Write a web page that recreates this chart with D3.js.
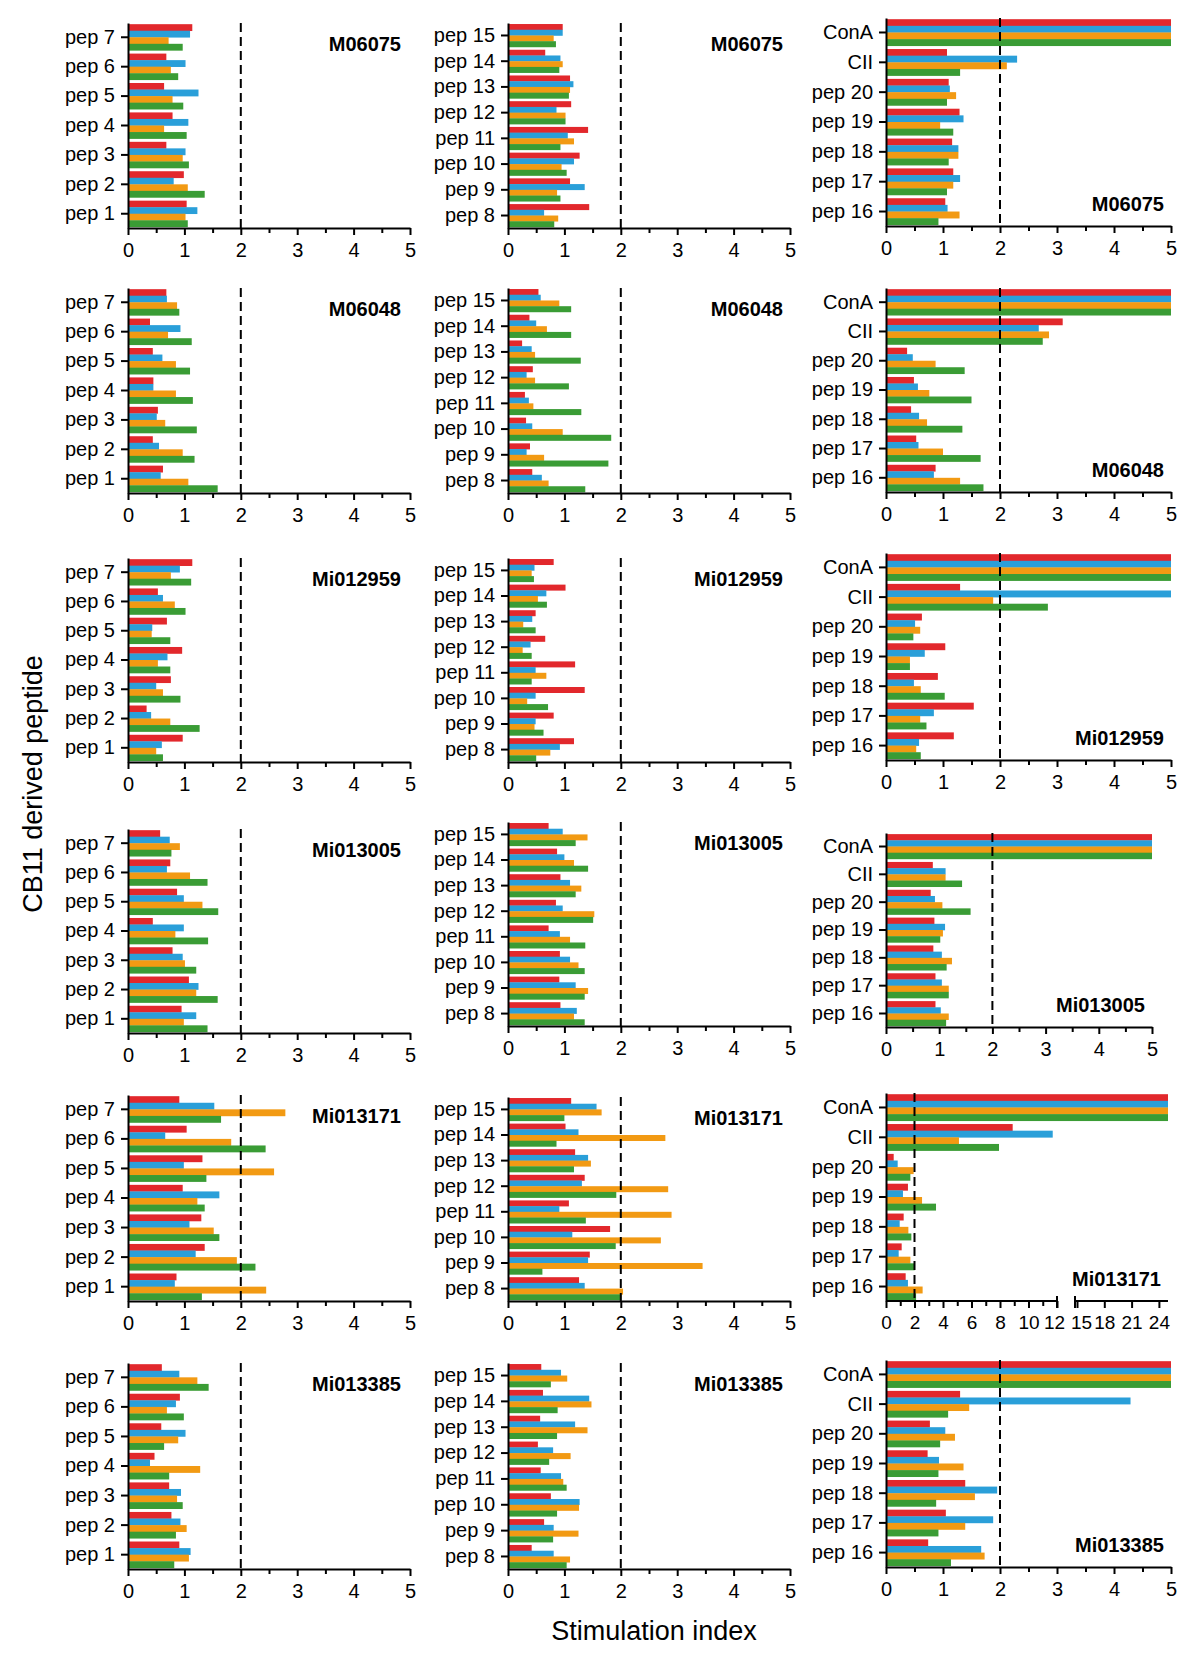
<!DOCTYPE html>
<html><head><meta charset="utf-8">
<script src="https://cdn.jsdelivr.net/npm/d3@7"></script>
<style>
body{margin:0;background:#fff}
text{font-family:Arial,"Liberation Sans",sans-serif;fill:#000}
</style>
</head><body>
<svg id="chart" width="1200" height="1662"></svg>
<script>
// ---------------- DATA ----------------
const seriesNames = ["Sample 1", "Sample 2", "Sample 3", "Sample 4"];
const seriesColors = ["#e2282c", "#2a9fd9", "#f29a13", "#3a9c35"];
const donors = ["M06075", "M06048", "Mi012959", "Mi013005", "Mi013171", "Mi013385"];
const catsA = ["pep 7", "pep 6", "pep 5", "pep 4", "pep 3", "pep 2", "pep 1"];
const catsB = ["pep 15", "pep 14", "pep 13", "pep 12", "pep 11", "pep 10", "pep 9", "pep 8"];
const catsC = ["ConA", "CII", "pep 20", "pep 19", "pep 18", "pep 17", "pep 16"];
const xTicks = [0, 1, 2, 3, 4, 5];
const xMinorTicks = [0.5, 1.5, 2.5, 3.5, 4.5];
const brokenTicks = [0, 2, 4, 6, 8, 10, 12, 15, 18, 21, 24];
const brokenMinorTicks = [1, 3, 5, 7, 9, 11];
const threshold = 2;

// each array: rows = series (red, blue, orange, green), columns = categories top→bottom
const M06075_A = [
  [1.14, 0.68, 0.64, 0.79, 0.68, 0.99, 1.04],
  [1.10, 1.02, 1.25, 1.07, 1.02, 0.81, 1.23],
  [0.72, 0.76, 0.79, 0.64, 0.97, 1.06, 1.02],
  [0.97, 0.89, 0.98, 1.04, 1.08, 1.36, 1.06]];
const M06075_B = [
  [0.97, 0.66, 1.10, 1.12, 1.42, 1.27, 1.10, 1.44],
  [0.97, 0.93, 1.16, 0.86, 1.06, 1.17, 1.36, 0.64],
  [0.81, 0.97, 1.10, 1.02, 1.17, 0.95, 0.87, 0.89],
  [0.85, 0.91, 1.08, 1.02, 0.93, 1.04, 0.93, 0.82]];
const M06075_C = [
  [5, 1.07, 1.10, 1.29, 1.16, 1.18, 1.04],
  [5, 2.30, 1.12, 1.36, 1.27, 1.30, 1.08],
  [5, 2.12, 1.23, 0.95, 1.27, 1.18, 1.29],
  [5, 1.30, 1.07, 1.18, 1.10, 1.07, 0.92]];

const M06048_A = [
  [0.68, 0.39, 0.44, 0.45, 0.53, 0.44, 0.62],
  [0.69, 0.93, 0.61, 0.45, 0.51, 0.55, 0.58],
  [0.87, 0.71, 0.85, 0.85, 0.66, 0.97, 1.07],
  [0.91, 1.13, 1.10, 1.15, 1.22, 1.18, 1.59]];
const M06048_B = [
  [0.54, 0.38, 0.25, 0.44, 0.30, 0.32, 0.39, 0.43],
  [0.58, 0.50, 0.42, 0.33, 0.37, 0.43, 0.33, 0.60],
  [0.91, 0.69, 0.48, 0.48, 0.45, 0.97, 0.64, 0.72],
  [1.12, 1.12, 1.29, 1.08, 1.30, 1.83, 1.78, 1.37]];
const M06048_C = [
  [5, 3.10, 0.37, 0.49, 0.44, 0.53, 0.87],
  [5, 2.68, 0.47, 0.56, 0.58, 0.57, 0.84],
  [5, 2.86, 0.87, 0.76, 0.72, 1.00, 1.30],
  [5, 2.75, 1.38, 1.50, 1.34, 1.66, 1.71]];

const Mi012959_A = [
  [1.14, 0.53, 0.69, 0.96, 0.76, 0.33, 0.97],
  [0.92, 0.62, 0.43, 0.70, 0.50, 0.41, 0.60],
  [0.76, 0.83, 0.42, 0.53, 0.62, 0.75, 0.50],
  [1.12, 1.02, 0.75, 0.75, 0.93, 1.27, 0.62]];
const Mi012959_B = [
  [0.81, 1.02, 0.49, 0.66, 1.19, 1.36, 0.81, 1.17],
  [0.47, 0.68, 0.43, 0.40, 0.49, 0.49, 0.49, 0.92],
  [0.42, 0.53, 0.27, 0.26, 0.68, 0.34, 0.47, 0.75],
  [0.46, 0.69, 0.49, 0.42, 0.42, 0.71, 0.63, 0.50]];
const Mi012959_C = [
  [5, 1.30, 0.63, 1.04, 0.91, 1.54, 1.19],
  [5, 5, 0.51, 0.68, 0.49, 0.84, 0.58],
  [5, 1.88, 0.60, 0.42, 0.61, 0.60, 0.53],
  [5, 2.84, 0.48, 0.42, 1.03, 0.71, 0.61]];

const Mi013005_A = [
  [0.57, 0.75, 0.87, 0.44, 0.79, 1.08, 0.95],
  [0.74, 0.69, 0.99, 0.99, 0.97, 1.25, 1.21],
  [0.92, 1.10, 1.32, 0.84, 1.01, 1.21, 0.99],
  [0.77, 1.41, 1.60, 1.42, 1.21, 1.59, 1.41]];
const Mi013005_B = [
  [0.72, 0.87, 0.93, 0.85, 0.72, 0.92, 0.91, 0.93],
  [0.97, 1.00, 1.10, 0.97, 0.92, 1.10, 1.20, 1.22],
  [1.41, 1.17, 1.30, 1.53, 1.10, 1.25, 1.42, 1.17],
  [1.20, 1.42, 1.20, 1.51, 1.37, 1.36, 1.36, 1.36]];
const Mi013005_C = [
  [5, 0.88, 0.84, 0.91, 0.89, 0.93, 0.93],
  [5, 1.12, 0.92, 1.11, 1.05, 1.05, 1.03],
  [5, 1.12, 1.06, 1.07, 1.24, 1.18, 1.18],
  [5, 1.43, 1.59, 1.02, 1.14, 1.18, 1.13]];

const Mi013171_A = [
  [0.91, 1.04, 1.32, 0.97, 1.30, 1.36, 0.86],
  [1.53, 0.66, 0.99, 1.62, 1.09, 1.20, 0.83],
  [2.79, 1.83, 2.59, 1.23, 1.52, 1.93, 2.45],
  [1.65, 2.44, 1.39, 1.36, 1.62, 2.26, 1.31]];
const Mi013171_B = [
  [1.12, 1.02, 1.19, 1.36, 1.08, 1.81, 1.45, 1.26],
  [1.57, 1.25, 1.42, 1.31, 0.91, 1.14, 1.42, 1.36],
  [1.66, 2.79, 1.47, 2.84, 2.90, 2.71, 3.45, 2.04],
  [1.00, 0.86, 1.17, 1.92, 1.38, 1.91, 0.61, 2.01]];
const Mi013171_C = [
  [25, 8.89, 0.54, 1.54, 1.24, 1.10, 1.38],
  [25, 11.7, 0.82, 1.19, 0.96, 0.89, 1.54],
  [25, 5.12, 1.94, 2.53, 1.57, 1.71, 2.57],
  [25, 7.93, 1.71, 3.51, 1.78, 2.01, 2.11]];

const Mi013385_A = [
  [0.60, 0.92, 0.59, 0.47, 0.73, 0.77, 0.91],
  [0.91, 0.85, 1.02, 0.39, 0.94, 0.93, 1.11],
  [1.23, 0.69, 0.89, 1.28, 0.87, 1.04, 1.08],
  [1.43, 0.99, 0.64, 0.73, 0.97, 0.85, 0.82]];
const Mi013385_B = [
  [0.59, 0.62, 0.57, 0.53, 0.58, 0.76, 0.64, 0.42],
  [0.94, 1.44, 1.19, 0.80, 0.94, 1.27, 0.81, 0.81],
  [1.05, 1.48, 1.41, 1.11, 0.98, 1.26, 1.25, 1.10],
  [0.76, 0.88, 0.87, 0.73, 1.04, 0.87, 0.80, 1.04]];
const Mi013385_C = [
  [5, 1.30, 0.77, 0.73, 1.39, 1.05, 0.74],
  [5, 4.29, 1.04, 0.93, 1.95, 1.88, 1.67],
  [5, 1.46, 1.21, 1.36, 1.56, 1.39, 1.73],
  [5, 1.09, 0.95, 0.92, 0.88, 0.92, 1.14]];

const panelValues = [
  [M06075_A, M06075_B, M06075_C],
  [M06048_A, M06048_B, M06048_C],
  [Mi012959_A, Mi012959_B, Mi012959_C],
  [Mi013005_A, Mi013005_B, Mi013005_C],
  [Mi013171_A, Mi013171_B, Mi013171_C],
  [Mi013385_A, Mi013385_B, Mi013385_C]];
const columnCats = [catsA, catsB, catsC];

// ---------------- LAYOUT ----------------
const colX = [[128, 410], [508, 790], [886, 1171]];
const rowY = [
  [[23, 228], [23, 228], [18, 226]],
  [[288, 493], [288, 493], [288, 492]],
  [[558, 762], [558, 762], [553, 760]],
  [[829, 1033], [822, 1026], [833, 1027]],
  [[1095, 1301], [1097, 1301], [1093, 1301]],
  [[1363, 1569], [1363, 1569], [1360, 1567]]];

const svg = d3.select("#chart");
const FS = 20;
const FONT = "Arial, 'Liberation Sans', sans-serif";

function drawPanel(r, c) {
  const cats = columnCats[c];
  const vals = panelValues[r][c];
  const [top, bottom] = rowY[r][c];
  let [x0, x1] = colX[c];
  const broken = (r === 4 && c === 2);
  if (r === 3 && c === 2) x1 = 1152;
  const g = svg.append("g");

  let x;
  if (broken) {
    x = d3.scaleLinear().domain([0, 12, 15, 25]).range([x0, 1057, 1077, 1168]).clamp(true);
  } else {
    x = d3.scaleLinear().domain([0, 5]).range([x0, x1]).clamp(true);
  }
  const y = d3.scaleBand().domain(cats).range([top, bottom]).paddingInner(0.11).paddingOuter(0.04);
  const ys = d3.scaleBand().domain(d3.range(seriesNames.length)).range([0, y.bandwidth()]);

  // bars
  seriesNames.forEach((s, si) => {
    g.append("g").selectAll("rect")
      .data(cats.map((cat, ci) => ({cat, v: vals[si][ci]})))
      .join("rect")
      .attr("x", x(0))
      .attr("y", d => y(d.cat) + ys(si))
      .attr("width", d => x(d.v) - x(0))
      .attr("height", ys.bandwidth() + 0.3)
      .attr("fill", seriesColors[si]);
  });

  // threshold dashed line
  g.append("line")
    .attr("x1", x(threshold)).attr("x2", x(threshold))
    .attr("y1", top).attr("y2", bottom)
    .attr("stroke", "#000").attr("stroke-width", 2)
    .attr("stroke-dasharray", "9,5");

  // x axis
  const fmt = d3.format("d");
  const xa = g.append("g").attr("transform", `translate(0,${bottom})`);
  if (!broken) {
    xa.call(d3.axisBottom(x).tickValues(xTicks).tickFormat(fmt).tickSize(7).tickSizeOuter(0).tickPadding(8));
    const xm = g.append("g").attr("transform", `translate(0,${bottom})`)
      .call(d3.axisBottom(x).tickValues(xMinorTicks).tickSize(5).tickFormat(""));
    xm.select(".domain").remove();
    xm.selectAll("line").attr("stroke-width", 2);
  } else {
    xa.call(d3.axisBottom(x).tickValues(brokenTicks).tickFormat(fmt).tickSize(7).tickSizeOuter(0).tickPadding(8));
    xa.select(".domain").remove();
    xa.append("line").attr("x1", x(0)).attr("x2", x(12)).attr("stroke", "#000").attr("stroke-width", 2);
    xa.append("line").attr("x1", x(15) - 2).attr("x2", x(25)).attr("stroke", "#000").attr("stroke-width", 2);
    xa.append("line").attr("x1", x(12)).attr("x2", x(12)).attr("y1", -5).attr("y2", 7).attr("stroke", "#000").attr("stroke-width", 2);
    xa.append("line").attr("x1", x(15) - 2).attr("x2", x(15) - 2).attr("y1", -5).attr("y2", 7).attr("stroke", "#000").attr("stroke-width", 2);
    const xm = g.append("g").attr("transform", `translate(0,${bottom})`)
      .call(d3.axisBottom(x).tickValues(brokenMinorTicks).tickSize(5).tickFormat(""));
    xm.select(".domain").remove();
    xm.selectAll("line").attr("stroke-width", 2);
    xa.selectAll(".tick text").attr("dx", d => d === 12 ? -3 : (d === 15 ? 4 : 0));
  }
  xa.select(".domain").attr("stroke-width", 2);
  xa.selectAll(".tick line").attr("stroke-width", 2);
  xa.selectAll(".tick text").attr("font-size", broken ? 19 : FS).attr("font-family", FONT);

  // y axis
  const ya = g.append("g").attr("transform", `translate(${x0},0)`)
    .call(d3.axisLeft(y).tickSize(7).tickSizeOuter(0).tickPadding(6));
  ya.select(".domain").attr("stroke-width", 2);
  ya.selectAll(".tick line").attr("stroke-width", 2);
  ya.selectAll(".tick text").attr("font-size", FS).attr("font-family", FONT);

  // panel label
  const lbl = g.append("text").text(donors[r])
    .attr("text-anchor", "end")
    .attr("font-weight", "bold")
    .attr("font-size", 20);
  if (c < 2) {
    lbl.attr("x", x1 - (c === 0 ? 9 : 7)).attr("y", top + 28);
  } else {
    lbl.attr("x", (broken ? 1168 : x1) - 7).attr("y", bottom - 15);
  }
}

for (let r = 0; r < donors.length; r++) {
  for (let c = 0; c < 3; c++) drawPanel(r, c);
}

// axis titles
svg.append("text")
  .attr("transform", "translate(33,784) rotate(-90)")
  .attr("text-anchor", "middle")
  .attr("dominant-baseline", "central")
  .attr("font-size", 27)
  .text("CB11 derived peptide");
svg.append("text")
  .attr("x", 654).attr("y", 1640)
  .attr("text-anchor", "middle")
  .attr("font-size", 27)
  .text("Stimulation index");
</script>
</body></html>
